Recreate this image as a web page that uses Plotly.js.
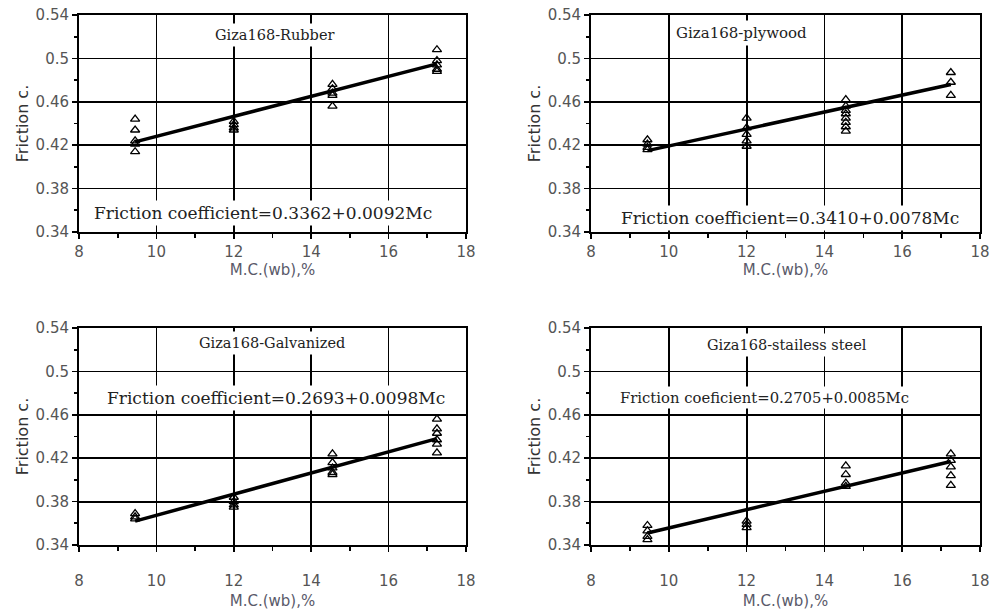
<!DOCTYPE html>
<html>
<head>
<meta charset="utf-8">
<script src="https://cdn.plot.ly/plotly-3.0.1.min.js"></script>
<style>html,body{margin:0;padding:0;background:#fff;}#chart{width:997px;height:610px;}</style>
</head>
<body>
<div id="chart"></div>
<script>
// ---- data ----
const panelTitles = ["Giza168-Rubber", "Giza168-plywood", "Giza168-Galvanized", "Giza168-stailess steel"];
const equations = [
  "Friction coefficient=0.3362+0.0092Mc",
  "Friction coefficient=0.3410+0.0078Mc",
  "Friction coefficient=0.2693+0.0098Mc",
  "Friction coeficient=0.2705+0.0085Mc"
];
const moisture = [9.45, 12.0, 14.55, 17.25];   // M.C.(wb),% levels
const rubber = [[0.444, 0.434, 0.424, 0.421, 0.414], [0.442, 0.439, 0.436, 0.434], [0.476, 0.472, 0.468, 0.466, 0.456], [0.508, 0.498, 0.494, 0.490, 0.488]];
const plywood = [[0.425, 0.421, 0.418, 0.416], [0.445, 0.436, 0.430, 0.424, 0.419], [0.462, 0.456, 0.452, 0.449, 0.445, 0.441, 0.437, 0.433], [0.487, 0.478, 0.466]];
const galvanized = [[0.369, 0.366, 0.364], [0.384, 0.380, 0.377, 0.375], [0.424, 0.416, 0.411, 0.407, 0.405], [0.456, 0.447, 0.443, 0.437, 0.433, 0.425]];
const steel = [[0.358, 0.353, 0.348, 0.345], [0.362, 0.359, 0.356], [0.413, 0.405, 0.397, 0.394], [0.424, 0.418, 0.412, 0.404, 0.395]];
const fitX = [9.45, 17.25];
const rubberFit = [0.423, 0.495];
const plywoodFit = [0.415, 0.476];
const galvanizedFit = [0.362, 0.438];
const steelFit = [0.351, 0.417];
const xTicks = [8, 10, 12, 14, 16, 18];
const yTicks = [0.34, 0.38, 0.42, 0.46, 0.5, 0.54];
const yTickText = ["0.34", "0.38", "0.42", "0.46", "0.5", "0.54"];

const series = [rubber, plywood, galvanized, steel];
const fits = [rubberFit, plywoodFit, galvanizedFit, steelFit];

// ---- layout geometry ----
const titlePos = [[0.506, 0.908], [0.388, 0.917], [0.499, 0.931], [0.504, 0.922]];
const eqPos = [[0.475, 0.088], [0.512, 0.066], [0.509, 0.677], [0.447, 0.682]];
const titleSize = [14.5, 15, 14.5, 14.5];
const eqSize = [17, 17, 17, 14.8];
const xDomains = [[0, 0.4295], [0.5683, 1.0], [0, 0.4295], [0.5683, 1.0]];
const yDomains = [[0.5906, 1.0], [0.5906, 1.0], [0, 0.4094], [0, 0.4094]];
const xLabelStandoff = [0, 0, 16, 16];
const xTitleStandoff = [0, 0, 9, 9];

const traces = [];
const layout = {
  width: 997, height: 610,
  margin: {l: 79, r: 17, t: 15, b: 65},
  paper_bgcolor: "#fff", plot_bgcolor: "#fff",
  showlegend: false,
  annotations: []
};

const tickFont = {family: "DejaVu Sans, sans-serif", size: 15, color: "#555"};

for (let i = 0; i < 4; i++) {
  const s = i === 0 ? "" : String(i + 1);
  const xa = "x" + s, ya = "y" + s;
  const xs = [], ys = [];
  series[i].forEach((vals, j) => vals.forEach(v => { xs.push(moisture[j]); ys.push(v); }));
  traces.push({
    type: "scatter", mode: "lines", x: fitX, y: fits[i], xaxis: xa, yaxis: ya,
    line: {color: "#000", width: 3.5}, hoverinfo: "skip"
  });
  traces.push({
    type: "scatter", mode: "markers", x: xs, y: ys, xaxis: xa, yaxis: ya,
    marker: {symbol: "triangle-up-open", size: 8, color: "#000", line: {width: 1.3, color: "#000"}},
    cliponaxis: false, hoverinfo: "x+y"
  });
  layout["xaxis" + s] = {
    domain: xDomains[i], anchor: ya, range: [8, 18],
    tickvals: xTicks, ticks: "outside", ticklen: 5, tickwidth: 1.6, tickcolor: "#000",
    ticklabelstandoff: xLabelStandoff[i],
    showline: true, linecolor: "#000", linewidth: 2, mirror: true,
    showgrid: true, gridcolor: "#000", gridwidth: 1.8, zeroline: false,
    minor: {dtick: 1, ticks: "outside", ticklen: 4, tickcolor: "#000", tickwidth: 1.6, showgrid: false},
    tickfont: tickFont,
    title: {text: "M.C.(wb),%", font: {family: "DejaVu Sans, sans-serif", size: 15, color: "#5a5a6a"}, standoff: xTitleStandoff[i]}
  };
  layout["yaxis" + s] = {
    domain: yDomains[i], anchor: xa, range: [0.34, 0.54],
    tickvals: yTicks, ticktext: yTickText, ticks: "outside", ticklen: 5, tickwidth: 1.6, tickcolor: "#000",
    showline: true, linecolor: "#000", linewidth: 2, mirror: true,
    showgrid: true, gridcolor: "#000", gridwidth: 1.8, zeroline: false,
    minor: {dtick: 0.02, ticks: "outside", ticklen: 3, tickcolor: "#000", tickwidth: 1.6, showgrid: false},
    tickfont: tickFont,
    title: {text: "Friction c.", font: {family: "DejaVu Sans, sans-serif", size: 16, color: "#333"}, standoff: 3}
  };
  layout.annotations.push({
    xref: xa + " domain", yref: ya + " domain", x: titlePos[i][0], y: titlePos[i][1],
    xanchor: "center", yanchor: "middle",
    text: panelTitles[i], showarrow: false, bgcolor: "#fff", borderpad: 3,
    font: {family: "DejaVu Serif, serif", size: titleSize[i], color: "#222"}
  });
  layout.annotations.push({
    xref: xa + " domain", yref: ya + " domain", x: eqPos[i][0], y: eqPos[i][1],
    xanchor: "center", yanchor: "middle",
    text: equations[i], showarrow: false, bgcolor: "#fff", borderpad: 2,
    font: {family: "DejaVu Serif, serif", size: eqSize[i], color: "#222"}
  });
}

Plotly.newPlot("chart", traces, layout, {displayModeBar: false, staticPlot: true});
</script>
</body>
</html>
